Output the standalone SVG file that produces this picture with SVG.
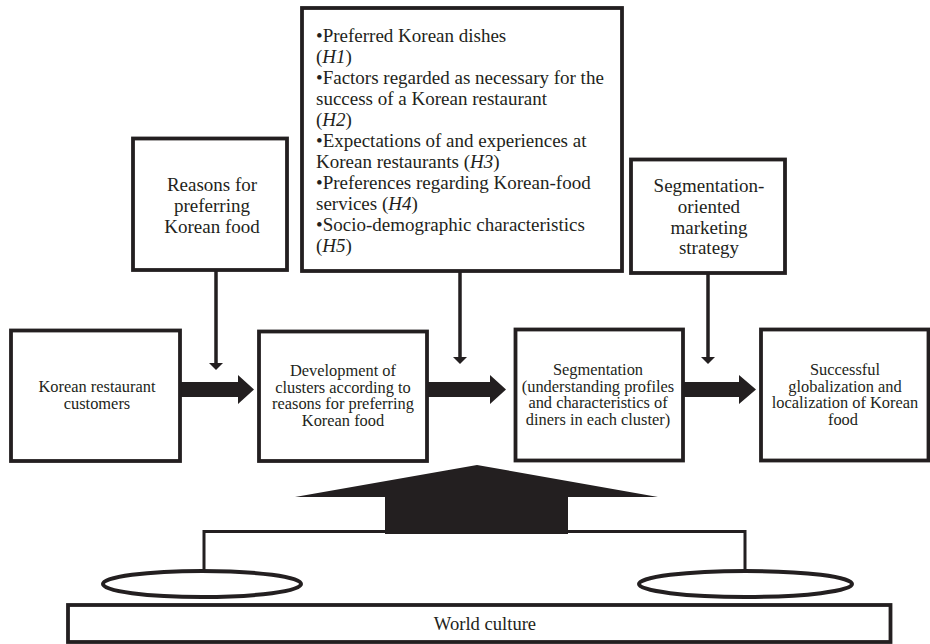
<svg xmlns="http://www.w3.org/2000/svg" width="930" height="644" viewBox="0 0 930 644">
<style>
  .box { fill: #fff; stroke: #231f20; stroke-width: 3.8; }
  .ln { fill: none; stroke: #231f20; stroke-width: 3.5; }
  .fill { fill: #231f20; stroke: none; }
</style>
<rect width="930" height="644" fill="#fff"/>

<g id="connectors">
  <polygon class="fill" points="180,382 238,382 238,375 254,389.5 238,404 238,397 180,397"/>
  <polygon class="fill" points="427,382 490,382 490,375 506,389.5 490,404 490,397 427,397"/>
  <polygon class="fill" points="683,382 739,382 739,375 756,389.5 739,404 739,397 683,397"/>
  <line class="ln" x1="216" y1="270" x2="216" y2="364"/>
  <polygon class="fill" points="209,363 223,363 216,370"/>
  <line class="ln" x1="460" y1="271" x2="460" y2="358"/>
  <polygon class="fill" points="453,357 467,357 460,364"/>
  <line class="ln" x1="708" y1="273" x2="708" y2="358"/>
  <polygon class="fill" points="701,357 715,357 708,364"/>
  <polyline class="ln" style="stroke-width:3" points="204,571 204,531.5 745,531.5 745,571"/>
</g>

<g id="node-factors">
  <rect class="box" x="302" y="8" width="320" height="263"/>
  <text font-family="Liberation Serif" font-size="19" fill="#231f20" x="316" y="41.5">•Preferred Korean dishes</text>
  <text font-family="Liberation Serif" font-size="19" fill="#231f20" x="316" y="62.5">(<tspan font-style="italic">H1</tspan>)</text>
  <text font-family="Liberation Serif" font-size="19" fill="#231f20" x="316" y="83.5">•Factors regarded as necessary for the</text>
  <text font-family="Liberation Serif" font-size="19" fill="#231f20" x="316" y="104.5">success of a Korean restaurant</text>
  <text font-family="Liberation Serif" font-size="19" fill="#231f20" x="316" y="125.5">(<tspan font-style="italic">H2</tspan>)</text>
  <text font-family="Liberation Serif" font-size="19" fill="#231f20" x="316" y="146.5">•Expectations of and experiences at</text>
  <text font-family="Liberation Serif" font-size="19" fill="#231f20" x="316" y="167.5">Korean restaurants (<tspan font-style="italic">H3</tspan>)</text>
  <text font-family="Liberation Serif" font-size="19" fill="#231f20" x="316" y="188.5">•Preferences regarding Korean-food</text>
  <text font-family="Liberation Serif" font-size="19" fill="#231f20" x="316" y="209.5">services (<tspan font-style="italic">H4</tspan>)</text>
  <text font-family="Liberation Serif" font-size="19" fill="#231f20" x="316" y="230.5">•Socio-demographic characteristics</text>
  <text font-family="Liberation Serif" font-size="19" fill="#231f20" x="316" y="251.5">(<tspan font-style="italic">H5</tspan>)</text>
</g>

<g id="node-reasons">
  <rect class="box" x="133" y="138.5" width="154" height="131.5"/>
  <text font-family="Liberation Serif" font-size="19" fill="#231f20" text-anchor="middle" x="212" y="190.5">Reasons for</text>
  <text font-family="Liberation Serif" font-size="19" fill="#231f20" text-anchor="middle" x="212" y="211.5">preferring</text>
  <text font-family="Liberation Serif" font-size="19" fill="#231f20" text-anchor="middle" x="212" y="232.5">Korean food</text>
</g>

<g id="node-strategy">
  <rect class="box" x="631" y="159.5" width="154" height="113.5"/>
  <text font-family="Liberation Serif" font-size="19" fill="#231f20" text-anchor="middle" x="709" y="191.5">Segmentation-</text>
  <text font-family="Liberation Serif" font-size="19" fill="#231f20" text-anchor="middle" x="709" y="212.5">oriented</text>
  <text font-family="Liberation Serif" font-size="19" fill="#231f20" text-anchor="middle" x="709" y="233.5">marketing</text>
  <text font-family="Liberation Serif" font-size="19" fill="#231f20" text-anchor="middle" x="709" y="254">strategy</text>
</g>

<g id="node-customers">
  <rect class="box" x="11" y="330.5" width="169" height="130.5"/>
  <text font-family="Liberation Serif" font-size="16.4" fill="#231f20" text-anchor="middle" x="97" y="392">Korean restaurant</text>
  <text font-family="Liberation Serif" font-size="16.4" fill="#231f20" text-anchor="middle" x="97" y="408.5">customers</text>
</g>

<g id="node-clusters">
  <rect class="box" x="259" y="331.5" width="168" height="129.5"/>
  <text font-family="Liberation Serif" font-size="16.4" fill="#231f20" text-anchor="middle" x="343" y="376">Development of</text>
  <text font-family="Liberation Serif" font-size="16.4" fill="#231f20" text-anchor="middle" x="343" y="392.5">clusters according to</text>
  <text font-family="Liberation Serif" font-size="16.4" fill="#231f20" text-anchor="middle" x="343" y="409">reasons for preferring</text>
  <text font-family="Liberation Serif" font-size="16.4" fill="#231f20" text-anchor="middle" x="343" y="425.5">Korean food</text>
</g>

<g id="node-segmentation">
  <rect class="box" x="515.5" y="329.5" width="167.5" height="131"/>
  <text font-family="Liberation Serif" font-size="16.4" fill="#231f20" text-anchor="middle" x="598" y="375">Segmentation</text>
  <text font-family="Liberation Serif" font-size="16.4" fill="#231f20" text-anchor="middle" x="598" y="391.5">(understanding profiles</text>
  <text font-family="Liberation Serif" font-size="16.4" fill="#231f20" text-anchor="middle" x="598" y="408">and characteristics of</text>
  <text font-family="Liberation Serif" font-size="16.4" fill="#231f20" text-anchor="middle" x="598" y="424.5">diners in each cluster)</text>
</g>

<g id="node-success">
  <rect class="box" x="761" y="329.5" width="167.5" height="131"/>
  <text font-family="Liberation Serif" font-size="16.4" fill="#231f20" text-anchor="middle" x="845" y="375">Successful</text>
  <text font-family="Liberation Serif" font-size="16.4" fill="#231f20" text-anchor="middle" x="845" y="391.5">globalization and</text>
  <text font-family="Liberation Serif" font-size="16.4" fill="#231f20" text-anchor="middle" x="845" y="408">localization of Korean</text>
  <text font-family="Liberation Serif" font-size="16.4" fill="#231f20" text-anchor="middle" x="843" y="424.5">food</text>
</g>

<g id="node-house">
  <polygon class="fill" points="295,497 477,465 658,497 568,497 568,534 385,534 385,497"/>
</g>

<g id="node-ellipse-left">
  <ellipse cx="202" cy="584" rx="99" ry="13" fill="none" stroke="#231f20" stroke-width="4"/>
</g>
<g id="node-ellipse-right">
  <ellipse cx="745.5" cy="584" rx="106.5" ry="13" fill="none" stroke="#231f20" stroke-width="4"/>
</g>

<g id="node-world">
  <rect class="box" x="68" y="605" width="822.5" height="37"/>
  <text font-family="Liberation Serif" font-size="18.6" fill="#231f20" text-anchor="middle" x="485" y="630">World culture</text>
</g>
</svg>
